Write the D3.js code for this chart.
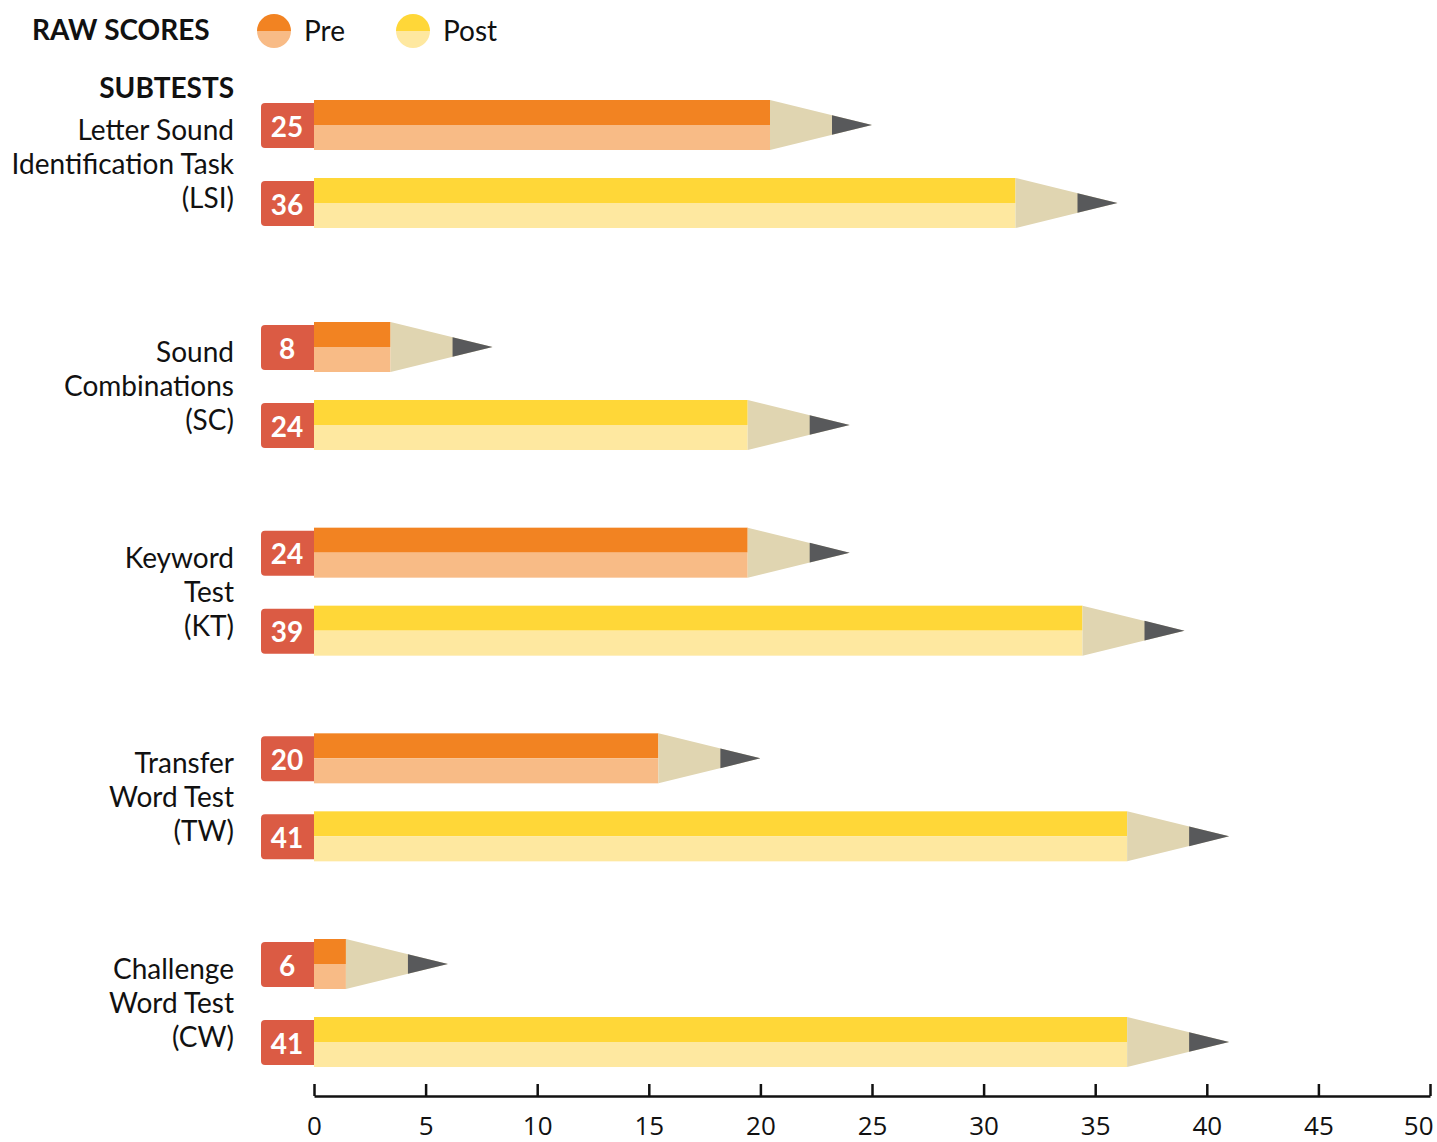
<!DOCTYPE html>
<html>
<head>
<meta charset="utf-8">
<script src="https://cdn.jsdelivr.net/npm/d3@7"></script>
<style>
  body { margin: 0; background: #fff; }
  svg { display: block; font-family: Lato, "Open Sans", sans-serif; }
</style>
</head>
<body>
<svg id="chart" width="1437" height="1142"></svg>
<script>
// data
const subtests = [
  ["Letter Sound", "Identification Task", "(LSI)"],
  ["Sound", "Combinations", "(SC)"],
  ["Keyword", "Test", "(KT)"],
  ["Transfer", "Word Test", "(TW)"],
  ["Challenge", "Word Test", "(CW)"]
]
const preScores = [25, 8, 24, 20, 6]
const postScores = [36, 24, 39, 41, 41]
const tickValues = [0, 5, 10, 15, 20, 25, 30, 35, 40, 45, 50]

const colors = {
  pre: ["#F28322", "#F8BB86"],
  post: ["#FFD738", "#FEE8A0"],
  wood: "#E0D5B1",
  lead: "#58595B",
  badge: "#DB5B44"
}

const svg = d3.select("#chart")

const x = d3.scaleLinear().domain([0, 50]).range([314, 1430])

// group rows; the first group sits a bit higher to leave room for the header
const groupY = d3.scaleLinear().domain([0, 1, 4]).range([125, 347, 964])
const barH = 50
const postOffset = 78
const tipLen = 102
const leadLen = 40

function drawPencil(value, cy, pal) {
  const g = svg.append("g")
  const bodyEnd = x(value) - tipLen
  const top = cy - barH / 2

  // red score badge
  g.append("path")
    .attr("d", `M${x(0)},${top + 3} H${x(0) - 49} a4,4 0 0 0 -4,4 V${top + barH - 6} a4,4 0 0 0 4,4 H${x(0)} Z`)
    .attr("fill", colors.badge)

  g.append("text")
    .attr("x", x(0) - 27)
    .attr("y", cy)
    .attr("dy", "0.42em")
    .attr("text-anchor", "middle")
    .attr("font-size", 28)
    .attr("font-weight", "bold")
    .attr("fill", "#fff")
    .text(value)

  // body, two tones
  g.append("rect")
    .attr("x", x(0)).attr("y", top)
    .attr("width", bodyEnd - x(0)).attr("height", barH / 2)
    .attr("fill", pal[0])
  g.append("rect")
    .attr("x", x(0)).attr("y", cy)
    .attr("width", bodyEnd - x(0)).attr("height", barH / 2)
    .attr("fill", pal[1])

  // sharpened wood
  g.append("path")
    .attr("d", `M${bodyEnd},${top} L${x(value)},${cy} L${bodyEnd},${top + barH} Z`)
    .attr("fill", colors.wood)

  // lead
  const leadHalf = (barH / 2) * leadLen / tipLen
  g.append("path")
    .attr("d", `M${x(value) - leadLen},${cy - leadHalf} L${x(value)},${cy} L${x(value) - leadLen},${cy + leadHalf} Z`)
    .attr("fill", colors.lead)
}

subtests.forEach((lines, i) => {
  const yPre = groupY(i)
  const yPost = yPre + postOffset
  drawPencil(preScores[i], yPre, colors.pre)
  drawPencil(postScores[i], yPost, colors.post)

  const mid = (yPre + yPost) / 2
  const label = svg.append("text")
    .attr("text-anchor", "end")
    .attr("font-size", 28)
    .attr("fill", "#111")
  lines.forEach((line, j) => {
    label.append("tspan")
      .attr("x", 234)
      .attr("y", mid + (j - 1) * 34)
      .attr("dy", "0.36em")
      .text(line)
  })
})

// header
svg.append("text")
  .attr("x", 32).attr("y", 30).attr("dy", "0.36em")
  .attr("font-size", 28).attr("font-weight", "bold").attr("fill", "#111")
  .text("RAW SCORES")

svg.append("text")
  .attr("x", 234).attr("y", 88).attr("dy", "0.36em")
  .attr("text-anchor", "end")
  .attr("font-size", 28).attr("font-weight", "bold").attr("fill", "#111")
  .text("SUBTESTS")

const legend = [["Pre", colors.pre, 274], ["Post", colors.post, 413]]
legend.forEach(([name, pal, cx]) => {
  const r = 17
  svg.append("path")
    .attr("d", `M${cx - r},31 A${r},${r} 0 0 1 ${cx + r},31 Z`)
    .attr("fill", pal[0])
  svg.append("path")
    .attr("d", `M${cx - r},31 A${r},${r} 0 0 0 ${cx + r},31 Z`)
    .attr("fill", pal[1])
  svg.append("text")
    .attr("x", cx + 30).attr("y", 31).attr("dy", "0.36em")
    .attr("font-size", 28).attr("fill", "#111")
    .text(name)
})

// axis
const axis = svg.append("g")
  .attr("transform", "translate(0,1096)")
  .call(d3.axisBottom(x).tickValues(tickValues).tickSizeInner(-12).tickSizeOuter(0).tickPadding(22))

axis.select(".domain").attr("stroke", "#111").attr("stroke-width", 2.5)
axis.selectAll(".tick line").attr("stroke", "#111").attr("stroke-width", 2.5)
axis.selectAll(".tick text")
  .attr("font-size", 26)
  .attr("font-family", "'Open Sans', sans-serif")
  .attr("fill", "#111")
  .attr("dy", "0.66em")

// last label is pulled inside the frame
axis.selectAll(".tick text").filter(d => d === 50)
  .attr("text-anchor", "end")
  .attr("x", 3)
</script>
</body>
</html>
